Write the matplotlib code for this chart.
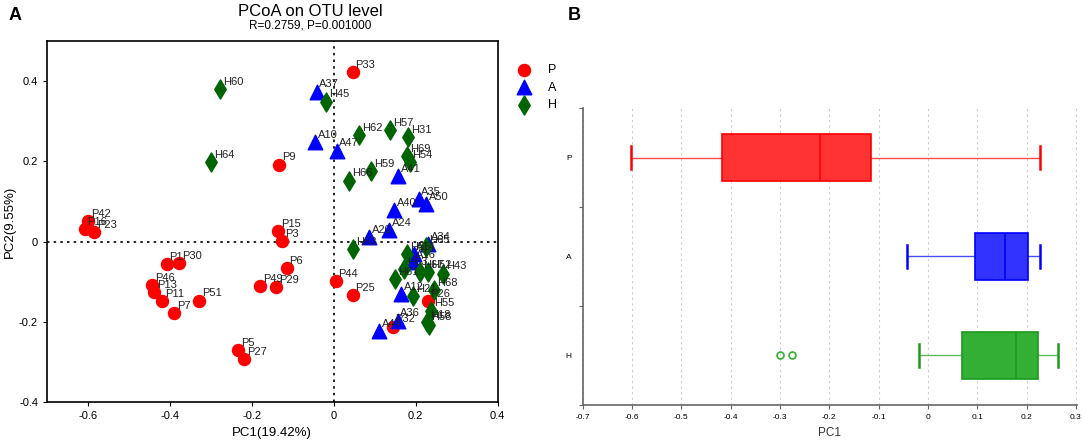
import matplotlib
matplotlib.use("Agg")
import matplotlib.pyplot as plt

plt.rcParams['font.family'] = ['Liberation Sans', 'DejaVu Sans']

# PCoA coordinates
p_names = ['P42', 'P16', 'P23', 'P15', 'P3', 'P1', 'P30', 'P46', 'P13', 'P11', 'P7', 'P51',
           'P6', 'P49', 'P29', 'P5', 'P27', 'P9', 'P33', 'P44', 'P25', 'P26', 'P32']
p_x = [-0.600, -0.608, -0.585, -0.136, -0.126, -0.408, -0.377, -0.444, -0.438, -0.419, -0.389, -0.328,
       -0.115, -0.179, -0.141, -0.233, -0.218, -0.133, 0.046, 0.005, 0.046, 0.229, 0.144]
p_y = [0.052, 0.032, 0.023, 0.027, 0.001, -0.056, -0.054, -0.108, -0.126, -0.149, -0.178, -0.147,
       -0.066, -0.110, -0.114, -0.271, -0.294, 0.192, 0.422, -0.099, -0.134, -0.149, -0.212]

a_names = ['A37', 'A10', 'A47', 'A41', 'A35', 'A40', 'A50', 'A24', 'A20', 'A34', 'A14', 'A16',
           'A12', 'A36', 'A44']
a_x = [-0.042, -0.046, 0.007, 0.158, 0.207, 0.148, 0.225, 0.136, 0.087, 0.231, 0.195, 0.193,
       0.164, 0.156, 0.110]
a_y = [0.374, 0.247, 0.227, 0.164, 0.106, 0.079, 0.094, 0.029, 0.012, -0.006, -0.031, -0.051,
       -0.130, -0.197, -0.224]

h_names = ['H60', 'H64', 'H45', 'H62', 'H57', 'H31', 'H69', 'H54', 'H59', 'H66', 'H63', 'H65',
           'H56', 'H53', 'H67', 'H52', 'H43', 'H61', 'H21', 'H68', 'H55', 'H18', 'H58']
h_x = [-0.277, -0.300, -0.019, 0.062, 0.138, 0.182, 0.179, 0.185, 0.091, 0.038, 0.047, 0.225,
       0.179, 0.172, 0.211, 0.230, 0.268, 0.150, 0.194, 0.246, 0.238, 0.228, 0.232]
h_y = [0.381, 0.199, 0.349, 0.266, 0.278, 0.261, 0.214, 0.198, 0.175, 0.152, -0.018, -0.014,
       -0.031, -0.068, -0.076, -0.076, -0.080, -0.093, -0.136, -0.122, -0.172, -0.201, -0.207]

# PC1 box statistics
groups = ['P', 'A', 'H']
box_whislo = [-0.601, -0.043, -0.019]
box_q1 = [-0.417, 0.096, 0.068]
box_med = [-0.218, 0.157, 0.179]
box_q3 = [-0.116, 0.203, 0.223]
box_whishi = [0.228, 0.228, 0.264]
box_fliers = [[], [], [-0.299, -0.275]]

colors = {'P': '#ff0000', 'A': '#0000ff', 'H': '#006400'}
box_face = {'P': '#ff3333', 'A': '#3333ff', 'H': '#33b033'}
box_edge = {'P': '#ff0000', 'A': '#0000ff', 'H': '#1a9a1a'}

fig = plt.figure(figsize=(10.84, 4.43), dpi=100)

# ---- panel A
ax = fig.add_axes([0.0434, 0.0926, 0.4156, 0.8148])
ax.axvline(0, color='black', ls=(0, (1.5, 2.5)), lw=1.2, zorder=1)
ax.axhline(0, color='black', ls=(0, (1.5, 2.5)), lw=1.2, zorder=1)
ax.scatter(p_x, p_y, s=75, marker='o', color=colors['P'], label='P', zorder=3)
ax.scatter(a_x, a_y, s=110, marker='^', color=colors['A'], label='A', zorder=3)
ax.scatter(h_x, h_y, s=95, marker='d', color=colors['H'], label='H', zorder=3)
for names, xs, ys in [(p_names, p_x, p_y), (a_names, a_x, a_y), (h_names, h_x, h_y)]:
    for n, x, y in zip(names, xs, ys):
        ax.annotate(n, (x, y), xytext=(2, 3), textcoords='offset points',
                    fontsize=8, color='#222222', zorder=4)
ax.set_xlim(-0.7, 0.4)
ax.set_ylim(-0.4, 0.5)
ax.set_xticks([-0.6, -0.4, -0.2, 0, 0.2, 0.4])
ax.set_xticklabels(['-0.6', '-0.4', '-0.2', '0', '0.2', '0.4'])
ax.set_yticks([-0.4, -0.2, 0, 0.2, 0.4])
ax.set_yticklabels(['-0.4', '-0.2', '0', '0.2', '0.4'])
ax.tick_params(labelsize=8, length=3)
for s in ax.spines.values():
    s.set_linewidth(1.2)
ax.set_xlabel('PC1(19.42%)', fontsize=9.5)
ax.set_ylabel('PC2(9.55%)', fontsize=9.5, labelpad=2)
ax.legend(loc='upper left', bbox_to_anchor=(1.02, 0.95), frameon=False, fontsize=9,
          handletextpad=0.9, labelspacing=0.45, borderaxespad=0, markerscale=1.0)

fig.text(0.286, 0.975, 'PCoA on OTU level', ha='center', va='center', fontsize=12)
fig.text(0.286, 0.943, 'R=0.2759, P=0.001000', ha='center', va='center', fontsize=8.5)
fig.text(0.008, 0.965, 'A', fontsize=13, fontweight='bold', va='center')
fig.text(0.524, 0.965, 'B', fontsize=13, fontweight='bold', va='center')

# ---- panel B
bx = fig.add_axes([0.5375, 0.0858, 0.456, 0.6704])
stats = []
for i, g in enumerate(groups):
    stats.append(dict(label=g, whislo=box_whislo[i], q1=box_q1[i], med=box_med[i],
                      q3=box_q3[i], whishi=box_whishi[i], fliers=box_fliers[i]))
positions = [3, 2, 1]
for st, pos, g in zip(stats, positions, groups):
    bx.bxp([st], positions=[pos], vert=False, widths=0.48, patch_artist=True,
           boxprops=dict(facecolor=box_face[g], edgecolor=box_edge[g], lw=1.2),
           medianprops=dict(color=box_edge[g], lw=1.2),
           whiskerprops=dict(color=box_edge[g], lw=1.0, alpha=0.7),
           capprops=dict(color=box_edge[g], lw=1.8),
           capwidths=0.24,
           flierprops=dict(marker='o', markerfacecolor='none', markeredgecolor='#33b033',
                           markersize=5, markeredgewidth=1.2))
bx.set_xlim(-0.7, 0.302)
bx.set_ylim(0.5, 3.5)
bx.set_xticks([-0.7, -0.6, -0.5, -0.4, -0.3, -0.2, -0.1, 0, 0.1, 0.2, 0.3])
bx.set_xticklabels(['-0.7', '-0.6', '-0.5', '-0.4', '-0.3', '-0.2', '-0.1', '0', '0.1', '0.2', '0.3'])
bx.set_yticks([0.5, 1.5, 2.5, 3.5])
bx.set_yticklabels([])
bx.set_yticks([1, 2, 3], minor=True)
bx.set_yticklabels(['H', 'A', 'P'], minor=True)
bx.tick_params(axis='y', which='minor', length=0, labelsize=6, pad=8)
bx.tick_params(axis='y', which='major', length=3, color='#666666')
bx.tick_params(axis='x', labelsize=6, length=3, color='#666666')
bx.grid(axis='x', color='#cccccc', ls=(0, (2, 3)), lw=0.8)
bx.set_axisbelow(True)
for side in ['top', 'right']:
    bx.spines[side].set_visible(False)
for side in ['left', 'bottom']:
    bx.spines[side].set_color('#666666')
    bx.spines[side].set_linewidth(1.2)
bx.set_xlabel('PC1', fontsize=8.5, color='#333333')

fig.savefig('out.png', dpi=100)
